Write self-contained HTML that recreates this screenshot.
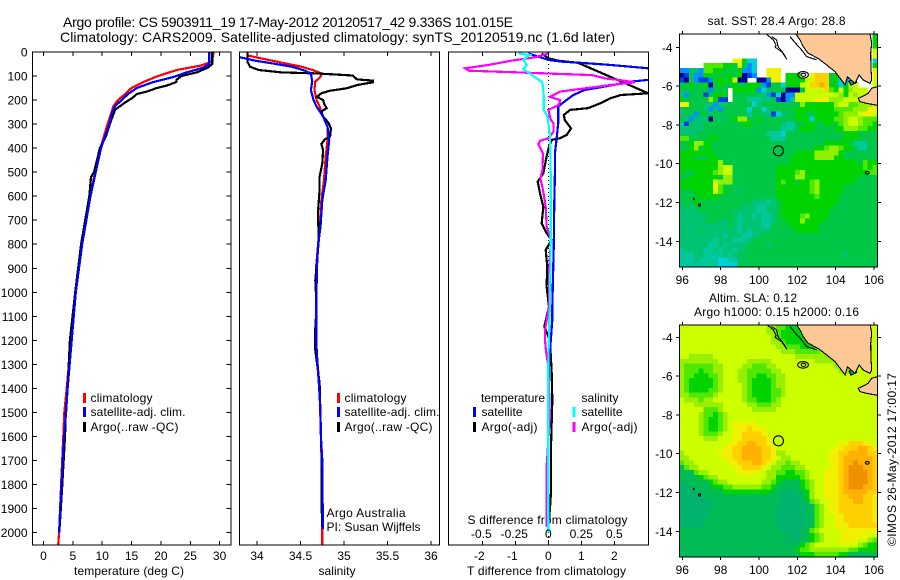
<!DOCTYPE html>
<html>
<head>
<meta charset="utf-8">
<title>Argo profile</title>
<style>
html,body{margin:0;padding:0;background:#fff;}
svg{display:block;}
text{font-family:"Liberation Sans",sans-serif;font-size:12px;fill:#000;}
.t{font-size:14px;}
</style>
</head>
<body>
<svg id="chart" xmlns="http://www.w3.org/2000/svg" width="900" height="580" viewBox="0 0 900 580">
<defs>
<clipPath id="cp1"><rect x="32.5" y="52" width="198.5" height="493"/></clipPath>
<clipPath id="cp2"><rect x="239.5" y="52" width="200" height="493"/></clipPath>
<clipPath id="cp3"><rect x="448.5" y="52" width="200" height="493"/></clipPath>
<clipPath id="cpm1"><rect x="679.5" y="34" width="198" height="233"/></clipPath>
<clipPath id="cpm2"><rect x="679.5" y="325" width="198" height="232"/></clipPath>
</defs>
<text class="t" x="63" y="27" textLength="450" lengthAdjust="spacing">Argo profile: CS 5903911_19 17-May-2012 20120517_42 9.336S 101.015E</text>
<text class="t" x="60" y="42" textLength="555" lengthAdjust="spacing">Climatology: CARS2009. Satellite-adjusted climatology: synTS_20120519.nc (1.6d later)</text>

<text x="74" y="575" textLength="110" lengthAdjust="spacing">temperature (deg C)</text>
<text x="318.5" y="575" textLength="37" lengthAdjust="spacing">salinity</text>
<text x="467" y="575" textLength="159" lengthAdjust="spacing">T difference from climatology</text>
<text x="467.5" y="524" textLength="160" lengthAdjust="spacing">S difference from climatology</text>

<g id="layer-panels"></g>
<g id="layer-maps"></g>

<g>
<rect x="83" y="393" width="3" height="10" fill="#ff0000"/>
<rect x="83" y="407" width="3" height="10" fill="#0000ff"/>
<rect x="83" y="422" width="3" height="10" fill="#000"/>
<text x="90.5" y="402" textLength="62" lengthAdjust="spacing">climatology</text>
<text x="90.5" y="416" textLength="95" lengthAdjust="spacing">satellite-adj. clim.</text>
<text x="90.5" y="431" textLength="88" lengthAdjust="spacing">Argo(..raw -QC)</text>
</g>
<g>
<rect x="337" y="393" width="3" height="10" fill="#ff0000"/>
<rect x="337" y="407" width="3" height="10" fill="#0000ff"/>
<rect x="337" y="422" width="3" height="10" fill="#000"/>
<text x="344.5" y="402" textLength="62" lengthAdjust="spacing">climatology</text>
<text x="344.5" y="416" textLength="95" lengthAdjust="spacing">satellite-adj. clim.</text>
<text x="344.5" y="431" textLength="88" lengthAdjust="spacing">Argo(..raw -QC)</text>
<text x="326.5" y="517" textLength="79" lengthAdjust="spacing">Argo Australia</text>
<text x="326.5" y="531" textLength="94" lengthAdjust="spacing">PI: Susan Wijffels</text>
</g>
<g>
<rect x="473" y="407" width="3" height="10" fill="#0000ff"/>
<rect x="473" y="422" width="3" height="10" fill="#000"/>
<rect x="572.5" y="407" width="3" height="10" fill="#00ffff"/>
<rect x="572.5" y="422" width="3" height="10" fill="#ff00ff"/>
<text x="481" y="402" textLength="64" lengthAdjust="spacing">temperature</text>
<text x="481.5" y="416" textLength="41" lengthAdjust="spacing">satellite</text>
<text x="481.5" y="431" textLength="56" lengthAdjust="spacing">Argo(-adj)</text>
<text x="581.5" y="402" textLength="37" lengthAdjust="spacing">salinity</text>
<text x="581.5" y="416" textLength="41" lengthAdjust="spacing">satellite</text>
<text x="581.5" y="431" textLength="56" lengthAdjust="spacing">Argo(-adj)</text>
</g>

<text x="707.5" y="25" textLength="138" lengthAdjust="spacing">sat. SST: 28.4  Argo: 28.8</text>
<text x="709" y="302" textLength="88" lengthAdjust="spacing">Altim. SLA: 0.12</text>
<text x="694" y="316" textLength="165" lengthAdjust="spacing">Argo h1000: 0.15 h2000: 0.16</text>
<text transform="translate(896,546) rotate(-90)" textLength="173" lengthAdjust="spacing">©IMOS 26-May-2012 17:00:17</text>
</svg>
<script>
// ---------- profile data (depth in dbar) ----------
const depthTicks = [0,100,200,300,400,500,600,700,800,900,1000,1100,1200,1300,1400,1500,1600,1700,1800,1900,2000];
const tempTicks = [0,5,10,15,20,25,30];
const salTicks = [34,34.5,35,35.5,36];
const salTickLabels = ['34','34.5','35','35.5','36'];
const tDiffTicks = [-2,-1,0,1,2];
const sDiffTicks = [-0.5,-0.25,0,0.25,0.5];
const sDiffTickLabels = ['-0.5','-0.25','0','0.25','0.5'];

const tempClimDepth = [0,40,57,75,100,125,150,175,200,225,250,300,350,400,500,600,800,1000,1200,1400,1500,1600,1800,2000,2050];
const tempClim = [29,28.7,26.7,22.7,19.5,17,15,13.9,12.7,11.9,11.6,10.9,10.3,9.7,8.8,7.9,6.5,5.4,4.7,3.95,3.55,3.37,3,2.65,2.5];
const tempSatDepth = [0,50,65,85,105,125,150,175,200,225,250,300,350,400,500,600,800,1000,1200,1400,1500,1600,1800,2000];
const tempSat = [28.25,28.25,27.2,24.4,22,18.7,15.9,14.4,13.3,12.2,11.7,11.2,10.5,9.8,8.9,8,6.6,5.5,4.8,4.1,3.85,3.5,3.05,2.65];
const tempArgoDepth = [0,50,65,85,100,115,125,140,150,165,175,190,210,240,300,350,400,500,520,600,800,1000,1200,1400,1500,1600,1800,2000];
const tempArgo = [28.75,28.75,28,26.1,23.5,22.7,22.6,21,19.3,17.6,15.9,15.2,13.9,12.2,11.3,10.65,9.6,8.6,8.1,7.8,6.4,5.4,4.5,4.1,3.8,3.66,3.2,2.7];

const salClimDepth = [15,33,47,61,75,89,103,123,158,200,227,269,311,366,435,533,616,727,810,893,1060,1200,1400,1600,1800,2000,2050];
const salClim = [33.9,34.13,34.32,34.51,34.64,34.74,34.73,34.67,34.66,34.685,34.72,34.76,34.81,34.81,34.79,34.77,34.74,34.72,34.7,34.68,34.68,34.675,34.72,34.735,34.75,34.75,34.75];
const salSatDepth = [20,36,47,61,75,89,123,158,200,227,269,311,366,435,533,616,727,810,893,1060,1200,1300,1400,1500,1600,1700,1900,1985];
const salSat = [33.78,33.98,34.17,34.4,34.53,34.62,34.635,34.62,34.65,34.685,34.76,34.81,34.83,34.81,34.79,34.75,34.73,34.7,34.69,34.68,34.68,34.695,34.715,34.73,34.735,34.75,34.755,34.755];
const salArgoDepth = [0,40,61,75,85,89,93,98,114,119,126,137,151,161,172,186,200,214,234,248,269,294,318,352,363,383,408,463,519,574,671,782,893,949,1060,1171,1240,1379,1518,1657,1865,1976];
const salArgo = [33.89,33.89,33.92,34.02,34.28,34.67,34.86,35.1,35.15,35.33,35.33,35.16,35.03,34.84,34.74,34.69,34.76,34.77,34.8,34.74,34.76,34.82,34.85,34.84,34.78,34.74,34.76,34.75,34.72,34.72,34.7,34.71,34.685,34.67,34.685,34.667,34.67,34.72,34.73,34.74,34.74,34.75];

const tDiffSatDepth = [6,33,40,47,54,68,85,100,116,123,144,158,179,200,227,297,366,422,505,644,782,1060,1115,1300,1500,2000];
const tDiffSat = [-0.6,0,0.4,1.2,1.9,3.03,3.6,3.6,3.03,2.5,1.7,1.1,0.76,0.55,0.3,0.3,0.25,0.2,0.2,0.18,0.17,0.12,0.12,0.02,0,0];
const tDiffArgoDepth = [6,26,36,45,172,179,193,214,234,241,262,283,318,345,359,366,394,435,505,540,588,644,713,754,782,824,893,976,1060,1143,1199,1324,1449,1657,1837,1879,1950];
const tDiffArgo = [-0.2,0,0.3,0.9,3.03,2.2,1.87,1.57,1.2,0.66,0.47,0.5,0.69,0.56,0.35,0.1,0.02,-0.05,-0.15,-0.32,-0.25,-0.15,-0.2,-0.05,0.1,-0.08,-0.03,-0.05,0.02,-0.12,0.05,0.1,0.12,0.08,0.08,0.06,0.02];
const sDiffSatDepth = [6,12,33,54,72,89,110,126,179,241,269,352,505,782,1060,1100,1300,2000];
const sDiffSat = [-0.227,-0.14,-0.19,-0.164,-0.19,-0.14,-0.088,-0.045,-0.035,-0.035,-0.005,0.013,0.018,0.018,0.013,0.008,0,0];
const sDiffArgoDepth = [6,22,36,54,68,78,85,89,96,110,116,126,137,151,165,186,200,220,241,283,297,331,359,369,383,422,491,526,574,644,727,782,921,1060,1157,1199,1240,1310,1518,1726,1976];
const sDiffArgo = [0,-0.1,-0.28,-0.455,-0.63,-0.6,-0.23,-0.025,0.33,0.43,0.53,0.656,0.48,0.28,0.09,0.013,0.09,0.08,0,0.02,0.04,0.04,0,-0.06,-0.076,-0.04,-0.045,-0.06,-0.04,-0.02,-0.012,0.02,0.005,0.005,-0.025,-0.025,-0.018,0,0.012,-0.013,-0.013];

// ---------- map data: each letter is a colour-scale level, "." is no data ----------
const sstColors = {a:'#000090',b:'#0040e0',c:'#0090ff',d:'#00d0d8',e:'#00c89a',f:'#00c472',g:'#00c846',h:'#00d400',i:'#50e800',j:'#90f000',k:'#c8ff00',l:'#f0f000',m:'#ffd000',n:'#ffa800',o:'#f09000'};
const slaColors = {e:'#00b47a',f:'#00b46e',g:'#00bb56',h:'#00d400',i:'#50e800',j:'#98f000',k:'#ccff00',l:'#f0f000',m:'#ffd000',n:'#ffb000',o:'#f09000'};
const sstRows = [
".......... .......... .......... .......... h",
".......... .......... .......... .......... h",
".......... .......... .......... .......... h",
".......... .......... .......... .......... k",
".......... .......... .......... .......... l",
".......... .llhdd.... .......... .......... d",
".....iiiih hgkgcd.... .......... .......... h",
"ccffciihhg gghccd..ll l......... .......... k",
"abfcchhggg hghabc..ll l.hhh..lmm mgh....... l",
"bafcbbchhh hkaa..aacl l.hhhhkkmm mghdc..... k",
"gghgghaghg ghgghhhcbg gdhhhkkmmn mhgdgkk... k",
"ggggggcggg .hhhhhcdgg ggaaagkkkk mihkhjkkk. k",
"fcgggbfhhh .ggggggfcb dacckkkkkk kkkjhkjkkk k",
"hgggggjhbb .gggeeeffg bacekkkkll ljjjkkkjjj j",
"llgggffcff gggggdfggg gggggjhhhh hhjkkiijjj k",
"fggggfcfcg ggggdggdfg gggghhhhhh hhiiiijjjl l",
"fgfcggfggg ggggeggffb dfgghhgghh hhhijjjkll k",
"gfcfffagfg ghjjgghggg gggghhhdhh hhiijkkjii i",
"ebgffggggg ggghhggggg gfeegghhgg hhgijkkjii h",
"fffffggggg gggggggggg geeeghhhgg gghhjjjiih h",
"fffggggggg ggggggggee edgggggggg gggghhhggg g",
"iigggghhgg ggggggggge eegggggggg gggghhhggg g",
"gghjjhgggg gggggggggg gggggggggg hhhhhgeeeg g",
"gghjghhggg gggggggggg gggggggghh ijjihhgeeg g",
"hhhhhhhggg gggggggggg gggghhhhjj jjjhgggggg g",
"hhhggghhgg gggggggggg ggghhhhhjj jjhhgggggg g",
"hhhhhhhhjg gggggggggg ggghhhhhhh hhhhhhhgih h",
"hhhhhhhhjk kggggggggg hhhhhhhhhh hhhhhhhhih i",
"hgghhhhijk kggggggggg hhhhijhhhh hhhhhhhhhi i",
"gghhhhhhgj jggggggggg hhhhjjhhhh hhhhhhhggg g",
"hhhhhhhkjj jggggggggg hihhghhijh hhhhhhgggg g",
"hhhhhhhlig gggggggggg hhhhhhhijh hhhhgggggg g",
"ggghhhhkih ggfggggggg hhhhhhhijh hhhhgggggg g",
"gggghhhhgg gggggggggg hhhhhhhhih hhhggggggg g",
"ggghgggggg gggggfffef ghhhhhhhhh hhhggggggg g",
"fgfggggggg gggfffeeff ghhhhhhhhh hhgggggggg g",
"ffffgggggg gfffffeeff ghhhhhhhhh hggggggggg g",
"ffffffgggg ggeffefeef ghhhhijhhh hggggggggg g",
"fffffgggff gfeffffeef gghhhjhhhh gggggggggg g",
"ffffffffff gfeffffeeg ggghhhhhhg gggggggggg g",
"ffffgfffff ffefeffffg gggghhhhhg gggggggggg g",
"fffffffffe fffeeffggg gggggggggg gggggggggg g",
"fffffffeff feeefggggg gggggggggg gggggggggg g",
"ffffffeefe ffffggggfg gggggggggg gggggggggg g",
"effffeefef feffgggggg gggggggggg gggggggggg g",
"eeeffeeeef efgggggggg gggggggggg ggggfggggg g",
"eeefeeeedd eeffgggggg gggggggggg gggggggggg g",
"eeeeeeeedd ddgggggggg gggggggggg gggggggggg g"
];
const slaRows = [
"kkkkkkkkkk kkkkkkkkjj iihhhhkkkk kkkkkkkkkk k",
"kkkkkkkkkk kkkkkkkkjj ihhhhhhkkk kkkkkkkkkk k",
"kkkkkkkkkk kkkkkkkkkj ihhhhhihkk kkkkkkkkkk k",
"kkkkkkkkkk kkkkkkkkkj jihhhhhhkk kkkkkkkkkk k",
"kkkkkkkkkk kkkkkkkkkk jjiiihhhij kkkkkkkkkk k",
"kkkkkkkkkk kkkkkkkkkk kjjjiiiiij jjkkkkkkkk k",
"kkjjjjjkkk kkkkkkkkkk kkkkjjjjjj jjjkkkkkkk k",
"jjjjjjjjkk kkkkjjjjjk kkkkkkkkjj jjjjkkkkkk k",
"jiiiiiijjk kkkjjiiijj kkkkkkkkkk kkjjjkkkkk k",
"jiiihiijjk kkjjiiiiij jkkkkkkkkk kkkjjjkkkk k",
"jiihhhiijk kkjjiihhii jjkkkkkkkk kkkkkkkkkk k",
"jihhhhhijk kkjjihhhhi jjkkkkkkkk kkkkkkkkkk k",
"jihhhhhijk kkkjihhhhi jjkkkkkkkk kkkkkkkkkk k",
"jihhhhiijk kkkjihhhhi ijkkkkkkkk kkkkkkkkkk k",
"jjiiiiijkk kkkjihhhhi ijkkkkkkkk kkkkkkkkkk k",
"kjjjijjkkk kkkjiihhhi jkkkkkkkkk kkkkkkkkkk k",
"kkkjjjjjjk kkkkjjiiij jkkkkkkkkk kkkkkkkkkk k",
"kkkkkiiijk kkkkkjjjjj kkkkkkkkkk kkkkkkkkkk k",
"kkkkjiihij kkkkkkkkkk kkkkkkkkkk kkkkkkkkkk k",
"kkkkjihhij kkkkkkkkkk kkkkkkkkkk kkkkkkkkkk k",
"kkkkjihhij klllllkkkk kkkkkkkkkk kkkkkkkkkk k",
"kkkkjihhij klllmlllkk kkkkkkkkkk kkkkkkkkkk k",
"kkkkjiiijk kllmmmmlkk kkkkkkkkkk kkkkkkkkkk k",
"kkkkkjjjkk kllmmmmmlk kkkkkkkkkk kkkkkkkkkk k",
"kkkkkkkkkk llmmnnmmlk kkkkkkkkkk kkkllmmmll k",
"kkkkkkkkkl lmmnnnnmml kkkkkkkkkk kkllmmmnnm l",
"jkkkkkkkll lmmnnnnmml jjkkkkkkkk kllmmnnnnm m",
"jjkkkkkkkl lmmnnnnmml kjjkkkkkkk kllmnnnnnn m",
"ijjkkkkkkk llmmmnnmlk jjijjkkkkk kllmnnonnn m",
"gijjkkkkkk kllmmmmlkj jiiijjkkkk kllmnooonn m",
"gggijjkkkk kkllllkkjj iihhiijkkk lllmnoooon m",
"gggghijjkk kkkkkkkkjj hhhhhijkkk lllmnoooon m",
"fggggghijj kkkkkkkjji hgggghijkk lllmnoooon m",
"ffggggghhi ijjjjjjiih ggggghijkk lllmnooonn m",
"ffffgggggh hhhhhhhhhg gfffgghjkk lllmnnnnnm m",
"fffffggggg gggggggggg gffffghjkk lllmmnnnmm l",
"fffffffggg gggggggggg gffffggijk kllmmmnnmm l",
"fffffffggg gggggggggg ffffffggij kllmmmmmmm l",
"ffffffgggg gggggggggg ffffffggij kllmmmmmmm l",
"ffffffgggg gggggggggg ffffffggij kkllmmmmmm l",
"fffffggggg gggggggggg ffffffggij kkllmmmmmm l",
"fffffggggg gggggggggg ffffffggij kklllmmmmm m",
"ggggggggggg ggggggggg gffffggijk kkkllllllll l",
"ggggggggggg ggggggggg gggffgghij kkkklllllk k",
"ggggggggggg ggggggggg ggfffgghij kkkllllkkj i",
"ggggggggggg ggggggggg ggggghijkk kkkkkkkjih h",
"ggggggggggg ggggggggg gggghiijjj jjjjjiihhh h",
"ggggggggggg ggggggggg ggggghhhii iiihhggggg g"
];
// geography as [lon, lat]
const sumatraCoast = [[101.92,-3.31],[102.14,-3.62],[102.31,-3.97],[102.57,-4.31],[103.09,-4.57],[103.53,-4.91],[103.97,-5.26],[104.23,-5.6],[104.49,-5.94],[104.61,-5.52],[105.01,-5.86],[105.23,-5.43],[105.44,-5.69],[105.79,-5.86],[105.88,-5.69],[105.84,-5],[105.83,-4.31],[105.88,-3.79],[105.79,-3.31]];
const javaCoast = [[106.17,-6.03],[105.88,-6.11],[105.7,-6.37],[105.44,-6.51],[105.18,-6.63],[105.27,-6.8],[105.62,-6.89],[106.17,-6.99]];
const isobathA = [[100.37,-3.31],[100.75,-3.62],[100.89,-3.88],[100.84,-4],[101.19,-4.23],[101.45,-4.62],[101.27,-4.31],[101,-3.97],[100.92,-3.62],[100.66,-3.45]];
const isobathB = [[101.62,-3.45],[101.88,-3.76],[102.23,-4.14],[102.49,-4.48],[103.01,-4.65]];
const sundaIslets = [[104.7,-5.75],[104.95,-5.55],[105.1,-5.8],[104.8,-5.95]];
const islandCentres = [[102.3,-5.42,0.28,0.17],[102.32,-5.42,0.12,0.08],[105.65,-10.47,0.1,0.07],[96.9,-12.13,0.05,0.06],[96.6,-11.82,0.02,0.04]];
const argoFloat = [101.015,-9.336];
const mapLonTicks = [96,98,100,102,104,106];
const mapLatTicks = [-4,-6,-8,-10,-12,-14];

// ---------- helpers ----------
const NS = 'http://www.w3.org/2000/svg';
const panelsLayer = document.getElementById('layer-panels');
const mapsLayer = document.getElementById('layer-maps');
function mk(tag, attrs, parent) {
  const el = document.createElementNS(NS, tag);
  for (const k in attrs) el.setAttribute(k, attrs[k]);
  parent.appendChild(el);
  return el;
}
const depthY = d => 52 + 0.2403 * d;
const tempX = t => 43.5 + 5.87 * t;
const salX = s => 344 + 87 * (s - 35);
const tDiffX = t => 548.3 + 33 * t;
const sDiffX = s => 548.3 + 132 * s;

function tickLine(x1, y1, x2, y2, parent) {
  const el = mk('line', {x1: x1, y1: y1, x2: x2, y2: y2, stroke: '#000', 'stroke-width': 1, 'shape-rendering': 'crispEdges'}, parent);
  
  
}
function tickText(str, x, y, anchor, parent) {
  const el = mk('text', {x: x, y: y, 'text-anchor': anchor}, parent);
  el.textContent = str;
  
  
}
function frame(x, y, w, h, name, parent) {
  const el = mk('rect', {x: x, y: y, width: w, height: h, fill: 'none', stroke: '#000', 'stroke-width': 1, 'shape-rendering': 'crispEdges'}, parent);
  
  
}
function profile(depths, values, xf, color, clip, name, parent) {
  const pts = depths.map((d, i) => xf(values[i]).toFixed(1) + ',' + depthY(d).toFixed(1)).join(' ');
  const el = mk('polyline', {points: pts, fill: 'none', stroke: color, 'stroke-width': 2.2, 'shape-rendering': 'crispEdges', 'clip-path': 'url(#' + clip + ')'}, parent);
  
  
}

// ---------- panel 1: temperature ----------
profile(tempClimDepth, tempClim, tempX, '#ff0000', 'cp1', 'temperature-climatology-line', panelsLayer);
profile(tempArgoDepth, tempArgo, tempX, '#000000', 'cp1', 'temperature-argo-line', panelsLayer);
profile(tempSatDepth, tempSat, tempX, '#0000ff', 'cp1', 'temperature-satellite-line', panelsLayer);
frame(32.5, 52, 198.5, 493, 'temperature-panel-frame', panelsLayer);
depthTicks.forEach(d => {
  tickLine(32.5, depthY(d), 37, depthY(d), panelsLayer);
  tickLine(226.5, depthY(d), 231, depthY(d), panelsLayer);
  tickText(String(d), 27.5, depthY(d) + 4.5, 'end', panelsLayer);
});
tempTicks.forEach(t => {
  tickLine(tempX(t), 52, tempX(t), 56, panelsLayer);
  tickLine(tempX(t), 541, tempX(t), 545, panelsLayer);
  tickText(String(t), tempX(t), 560, 'middle', panelsLayer);
});

// ---------- panel 2: salinity ----------
profile(salClimDepth, salClim, salX, '#ff0000', 'cp2', 'salinity-climatology-line', panelsLayer);
profile(salArgoDepth, salArgo, salX, '#000000', 'cp2', 'salinity-argo-line', panelsLayer);
profile(salSatDepth, salSat, salX, '#0000ff', 'cp2', 'salinity-satellite-line', panelsLayer);
frame(239.5, 52, 200, 493, 'salinity-panel-frame', panelsLayer);
salTicks.forEach((s, i) => {
  tickLine(salX(s), 52, salX(s), 56, panelsLayer);
  tickLine(salX(s), 541, salX(s), 545, panelsLayer);
  tickText(salTickLabels[i], salX(s), 560, 'middle', panelsLayer);
});

// ---------- panel 3: differences ----------
const zeroLine = mk('line', {x1: tDiffX(0), y1: 52, x2: tDiffX(0), y2: 545, stroke: '#000', 'stroke-width': 1, 'stroke-dasharray': '1 3', 'shape-rendering': 'crispEdges'}, panelsLayer);


profile(tDiffArgoDepth, tDiffArgo, tDiffX, '#000000', 'cp3', 't-difference-argo-line', panelsLayer);
profile(tDiffSatDepth, tDiffSat, tDiffX, '#0000ff', 'cp3', 't-difference-satellite-line', panelsLayer);
profile(sDiffArgoDepth, sDiffArgo, sDiffX, '#ff00ff', 'cp3', 's-difference-argo-line', panelsLayer);
profile(sDiffSatDepth, sDiffSat, sDiffX, '#00ffff', 'cp3', 's-difference-satellite-line', panelsLayer);
frame(448.5, 52, 200, 493, 'difference-panel-frame', panelsLayer);
tDiffTicks.forEach(t => {
  tickLine(tDiffX(t), 52, tDiffX(t), 56, panelsLayer);
  tickLine(tDiffX(t), 541, tDiffX(t), 545, panelsLayer);
  tickText(String(t), tDiffX(t) - (t < 0 ? 3 : 0), 560, 'middle', panelsLayer);
});
sDiffTicks.forEach((s, i) => {
  tickText(sDiffTickLabels[i], sDiffX(s) - (s < 0 ? 1 : 0), 538, 'middle', panelsLayer);
});

// ---------- maps ----------
function drawMap(rows, palette, boxTop, boxBottom, latFourY, labelBase, clip, prefix) {
  const g = mk('g', {'clip-path': 'url(#' + clip + ')'}, mapsLayer);
  
  
  const lonX = lon => 682.3 + 19.17 * (lon - 96);
  const latY = lat => latFourY + 19.4 * (-4 - lat);
  const lonStep = 0.252;
  const latStep = (boxBottom - boxTop) / rows.length / 19.4;
  const lonStart = 96 + (679.3 - 682.3) / 19.17;
  const latStart = -4 - (boxTop - latFourY) / 19.4;
  rows.forEach((row, r) => {
    const cells = row.replace(/ /g, '');
    for (let c = 0; c < cells.length; c++) {
      const col = palette[cells[c]];
      if (!col) continue;
      const x0 = lonX(lonStart + c * lonStep);
      const y0 = latY(latStart - r * latStep);
      const cell = mk('rect', {x: x0.toFixed(2), y: y0.toFixed(2), width: (lonStep * 19.17 + 0.4).toFixed(2), height: (latStep * 19.4 + 0.4).toFixed(2), fill: col, 'shape-rendering': 'crispEdges'}, g);
      
      
    }
  });
  const toPts = list => list.map(p => lonX(p[0]).toFixed(1) + ',' + latY(p[1]).toFixed(1)).join(' ');
  const isletFill = mk('polygon', {points: toPts(sundaIslets), fill: '#00b040', stroke: '#000', 'stroke-width': 1.2, 'shape-rendering': 'crispEdges'}, g);
  
  
  const sumatra = mk('polygon', {points: toPts(sumatraCoast), fill: '#fdc896', stroke: 'none'}, g);
  
  
  const java = mk('polygon', {points: toPts(javaCoast), fill: '#fdc896', stroke: 'none'}, g);
  
  
  [[sumatraCoast, 'sumatra-coastline'], [javaCoast, 'java-coastline'], [isobathA, 'isobath-west'], [isobathB, 'isobath-east']].forEach(item => {
    const ln = mk('polyline', {points: toPts(item[0]), fill: 'none', stroke: '#000', 'stroke-width': 1.1, 'shape-rendering': 'crispEdges'}, g);
    
    
  });
  islandCentres.forEach(p => {
    const isl = mk('ellipse', {cx: lonX(p[0]), cy: latY(p[1]), rx: p[2] * 19.17, ry: p[3] * 19.4, fill: 'none', stroke: '#000', 'stroke-width': 1.1}, g);
    
    
  });
  const marker = mk('circle', {cx: lonX(argoFloat[0]), cy: latY(argoFloat[1]), r: 5, fill: 'none', stroke: '#000', 'stroke-width': 1.1}, g);
  
  

  frame(679.5, boxTop, 198, boxBottom - boxTop, prefix + '-map-frame', mapsLayer);
  mapLonTicks.forEach(lon => {
    tickLine(lonX(lon), boxTop - 3, lonX(lon), boxTop, mapsLayer);
    tickLine(lonX(lon), boxBottom, lonX(lon), boxBottom + 3, mapsLayer);
    tickText(String(lon), lonX(lon), labelBase, 'middle', mapsLayer);
  });
  mapLatTicks.forEach(lat => {
    tickLine(676, latY(lat), 679.5, latY(lat), mapsLayer);
    tickLine(877.5, latY(lat), 881, latY(lat), mapsLayer);
    tickText(String(lat), 672.5, latY(lat) + 4.5, 'end', mapsLayer);
  });
}
drawMap(sstRows, sstColors, 34, 267, 47.3, 284, 'cpm1', 'sst');
drawMap(slaRows, slaColors, 325, 557, 337.3, 574, 'cpm2', 'sla');
</script>
</body>
</html>
